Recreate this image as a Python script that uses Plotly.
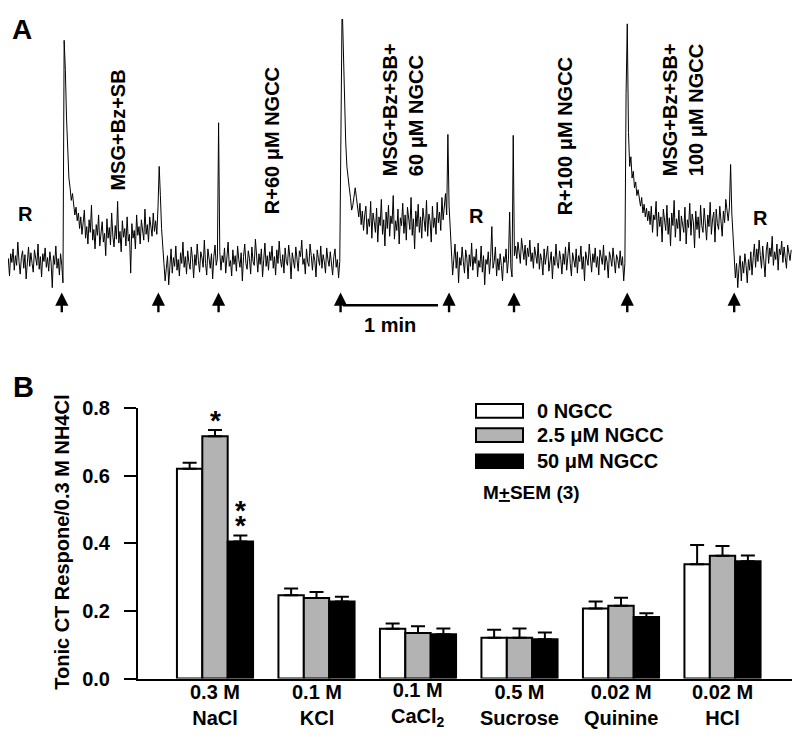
import plotly.graph_objects as go

# ---------------- Panel A data: chorda tympani trace (arbitrary units) ----------------
seg_r1 = [44, 36, 52, 30, 47, 58, 39, 45, 27, 50, 41, 55, 33, 48, 38, 62, 42, 29, 46, 53,
          35, 49, 24, 44, 57, 37, 51, 40, 31, 54, 45, 38, 60, 34, 47, 26, 50, 42, 56, 36,
          46, 32, 52, 41, 15, 48, 39, 58, 35, 45, 28, 50, 38, 20]
seg_msg1 = [270, 240, 190, 150, 128, 118, 105, 112, 96, 90, 98, 84, 92, 76, 88, 70, 82, 95, 66, 78,
            60, 85, 72, 100, 64, 75, 55, 80, 69, 90, 58, 74, 83, 62, 71, 48, 86, 66, 77, 59,
            92, 68, 57, 79, 65, 104, 61, 73, 52, 84, 67, 76, 58, 88, 63, 70, 30, 81, 66, 74,
            55, 90, 69, 78, 60, 85, 72, 64, 96, 70, 80, 62, 88, 75, 68, 92, 73, 84, 70, 98,
            140, 110, 76]
seg_r2 = [40, 22, 35, 48, 18, 42, 55, 30, 46, 37, 58, 33, 44, 27, 51, 40, 62, 36, 47, 29,
          53, 41, 34, 57, 45, 25, 49, 38, 60, 43, 31, 52, 46, 36, 64, 40, 28, 55, 44, 35,
          50, 24, 47, 59, 38, 45, 185, 52, 33, 48, 41, 56, 30, 46, 62, 37, 43, 27, 54, 39,
          48, 32, 58, 44, 36, 51, 22, 47, 60, 40, 34, 53, 45, 29, 57, 42, 38, 65, 46, 31,
          50, 39, 55, 26, 44, 61, 37, 48, 33, 52, 43, 58, 35, 47, 28, 54, 40, 63, 45, 36,
          49, 30, 56, 42, 38, 59, 46, 24, 51, 41, 35, 57, 44, 32, 53, 47, 64, 39, 45, 29,
          55, 41, 37, 60, 48, 33, 50, 43, 26, 54, 45, 38, 58, 35, 49, 42, 30, 56, 44, 37,
          52, 40, 28, 47, 55, 36, 44, 25, 42]
seg_msg2 = [310, 260, 200, 165, 140, 125, 118, 108, 95, 100, 112, 118, 108, 96, 88, 102, 80, 94, 74, 90,
            99, 70, 86, 78, 104, 66, 92, 83, 72, 97, 62, 88, 79, 106, 70, 85, 58, 93, 76, 100,
            68, 89, 81, 110, 65, 84, 74, 96, 60, 87, 79, 102, 71, 90, 64, 98, 83, 75, 108, 69,
            86, 55, 94, 78, 101, 72, 88, 66, 97, 80, 73, 105, 68, 91, 84, 62, 99, 77, 87, 70,
            103, 82, 93, 74, 108, 85, 96, 112, 90, 173, 100]
seg_r3 = [50, 28, 44, 60, 35, 52, 20, 46, 38, 57, 42, 30, 54, 45, 24, 49, 37, 61, 33, 47,
          40, 55, 26, 43, 36, 58, 31, 48, 18, 44, 39, 52, 29, 46, 78, 35, 42, 57, 27, 45,
          33, 50, 38, 22, 47, 41, 55, 30, 44, 93, 36, 26, 172, 48, 58, 45, 62, 50, 40, 66,
          53, 44, 59, 38, 56, 47, 64, 42, 51, 35, 57, 46, 40, 61, 34, 50, 43, 28, 55, 39,
          48, 58, 32, 45, 52, 24, 47, 38, 60, 41, 35, 53, 44, 29, 50, 39, 57, 33, 46, 62,
          40, 27, 51, 45, 36, 55, 30, 48, 42, 58, 34, 47, 22, 52, 43, 38, 60, 45, 31, 50,
          41, 56, 36, 47, 28, 54, 44, 39, 59, 33, 48, 42, 25, 52, 46, 37, 56, 40, 30, 49,
          44, 35, 53, 38, 47, 22, 40]
seg_msg3 = [215, 287, 175, 140, 150, 128, 135, 118, 124, 110, 116, 104, 99, 108, 92, 101, 88, 97, 84, 94,
            80, 99, 72, 90, 85, 104, 68, 93, 78, 88, 62, 96, 82, 74, 100, 70, 87, 58, 92, 79,
            105, 67, 86, 76, 95, 63, 89, 81, 72, 98, 60, 85, 77, 102, 69, 91, 83, 56, 94, 75,
            88, 66, 100, 79, 72, 97, 84, 64, 90, 78, 103, 70, 86, 93, 62, 96, 81, 75, 99, 87,
            68, 94, 82, 106, 90, 84, 98, 142, 92]
seg_r4 = [45, 25, 40, 15, 35, 48, 22, 42, 30, 50, 38, 20, 44, 33, 52, 28, 46, 60, 36, 55,
          42, 64, 48, 35, 58, 45, 26, 53, 62, 40, 56, 47, 68, 38, 52, 44, 60, 33, 55, 49,
          63, 41, 57, 46, 35, 59, 50, 43, 54]
segments = [seg_r1, seg_msg1, seg_r2, seg_msg2, seg_r3, seg_msg3, seg_r4]
# (first, last) sample time of each segment, s
segment_bounds = [(0, 39.75), (40.5, 102), (103.5, 214.5), (216, 283.5),
                  (285, 394.5), (395.25, 462), (463.5, 499.5)]

arrow_times = [39, 100, 138, 215, 283.5, 324.5, 396, 463.5]  # s
scale_bar_start = 216.5  # s
scale_bar_len = 60       # s  (1 min)

trace_labels = [
    ("R", 15.8, 91, 0, "center"),
    ("MSG+Bz+SB", 74.5, 177, -90, "center"),
    ("R+60 \u03bcM NGCC", 171.7, 167, -90, "center"),
    ("MSG+Bz+SB+<br>60 \u03bcM NGCC", 254.4, 199, -90, "left"),
    ("R", 301.1, 89, 0, "center"),
    ("R+100 \u03bcM NGCC", 356.7, 171, -90, "center"),
    ("MSG+Bz+SB+<br>100 \u03bcM NGCC", 431.2, 198, -90, "left"),
    ("R", 480.4, 87, 0, "center"),
]

# ---------------- Panel B data ----------------
categories = ["0.3 M<br>NaCl", "0.1 M<br>KCl", "0.1 M<br>CaCl<sub>2</sub>",
              "0.5 M<br>Sucrose", "0.02 M<br>Quinine", "0.02 M<br>HCl"]
series_names = ["0 NGCC", "2.5 \u03bcM NGCC", "50 \u03bcM NGCC"]
vals_0 = [0.620, 0.246, 0.147, 0.121, 0.207, 0.338]
vals_25 = [0.716, 0.238, 0.135, 0.121, 0.215, 0.363]
vals_50 = [0.405, 0.228, 0.131, 0.116, 0.182, 0.347]
sem_0 = [0.018, 0.020, 0.016, 0.023, 0.021, 0.057]
sem_25 = [0.019, 0.018, 0.020, 0.027, 0.024, 0.029]
sem_50 = [0.018, 0.014, 0.017, 0.020, 0.011, 0.017]
y_ticks = [0.0, 0.2, 0.4, 0.6, 0.8]
# significance marks: (text, category offset, y)
sig_marks = [("*", 0.0, 0.763), ("*", 0.25, 0.496), ("*", 0.25, 0.453)]

FONT = "Liberation Sans, Arial, sans-serif"
OFF = 8                 # page body margin of the browser page
W, H = 800 - OFF, 740 - OFF
PX_PER_S = 1.584


def px(x):
    return (x - OFF) / W


def py(y):
    return 1 - (y - OFF) / H


def bold(size):
    return dict(family=FONT, size=size, color="black", weight="bold")


fig = go.Figure()

# ---- trace
t_all, v_all = [], []
for (t0, t1), seg in zip(segment_bounds, segments):
    n = len(seg)
    for i, v in enumerate(seg):
        t_all.append(t0 + (t1 - t0) * i / (n - 1))
        v_all.append(v)
fig.add_trace(go.Scatter(x=t_all, y=v_all, mode="lines", line=dict(color="black", width=1),
                         xaxis="x", yaxis="y", showlegend=False, hoverinfo="skip"))

annotations = []
shapes = []
for t in arrow_times:
    annotations.append(dict(x=t, y=10, ax=t, ay=-12, xref="x", yref="y", axref="x", ayref="y",
                            text="", showarrow=True, arrowhead=2, arrowsize=1.1, arrowwidth=2.4,
                            arrowcolor="black"))
shapes.append(dict(type="line", xref="x", yref="y", x0=scale_bar_start,
                   x1=scale_bar_start + scale_bar_len, y0=-3, y1=-3,
                   line=dict(color="black", width=2.5)))
annotations.append(dict(x=scale_bar_start + scale_bar_len / 2, y=-23, xref="x", yref="y",
                        text="1 min", showarrow=False, xanchor="center", yanchor="middle",
                        font=bold(20)))
for text, tx, ty, ang, al in trace_labels:
    annotations.append(dict(x=tx, y=ty, xref="x", yref="y", text=text, showarrow=False,
                            textangle=ang, align=al, xanchor="center", yanchor="middle",
                            font=bold(20)))

# ---- bars
xs = list(range(len(categories)))
for name, vals, sems, color in [(series_names[0], vals_0, sem_0, "white"),
                                (series_names[1], vals_25, sem_25, "#b3b3b3"),
                                (series_names[2], vals_50, sem_50, "black")]:
    fig.add_trace(go.Bar(x=xs, y=vals, name=name, xaxis="x2", yaxis="y2",
                         marker=dict(color=color, line=dict(color="black", width=2)),
                         error_y=dict(type="data", array=sems, arrayminus=[0] * len(sems),
                                      symmetric=False, color="black", thickness=2, width=7),
                         showlegend=False, hoverinfo="skip"))

for text, dx, yy in sig_marks:
    annotations.append(dict(x=dx, y=yy, xref="x2", yref="y2", text=text, showarrow=False,
                            xanchor="center", yanchor="middle", font=bold(28)))

# two-line category labels
for i, cat in enumerate(categories):
    annotations.append(dict(x=i, y=py(715), xref="x2", yref="paper", text=cat,
                            showarrow=False, xanchor="center", yanchor="middle",
                            align="center", font=bold(20)))

# custom legend
legend_rows = [(412, "white"), (437, "#b3b3b3"), (464, "black")]
for (cy, color), name in zip(legend_rows, series_names):
    shapes.append(dict(type="rect", xref="paper", yref="paper", x0=px(476), x1=px(523),
                       y0=py(cy - 7), y1=py(cy + 7), fillcolor=color,
                       line=dict(color="black", width=2)))
    annotations.append(dict(x=px(535), y=py(cy), xref="paper", yref="paper", text=name,
                            showarrow=False, xanchor="left", yanchor="middle", font=bold(20)))
annotations.append(dict(x=px(481), y=py(496), xref="paper", yref="paper",
                        text="M<u>+</u>SEM (3)", showarrow=False, xanchor="left",
                        yanchor="middle", font=bold(19)))

# y title and panel letters
annotations.append(dict(x=px(62), y=py(548), xref="paper", yref="paper",
                        text="Tonic CT Respone/0.3 M NH4Cl", showarrow=False, textangle=-90,
                        xanchor="center", yanchor="middle", font=bold(20)))
annotations.append(dict(x=px(22), y=py(19), xref="paper", yref="paper", text="A",
                        showarrow=False, xanchor="center", yanchor="middle", font=bold(28)))
annotations.append(dict(x=px(23), y=py(387), xref="paper", yref="paper", text="B",
                        showarrow=False, xanchor="center", yanchor="middle", font=bold(29)))

cat_px = 101.5
x_left = (138 - 215) / cat_px
x_right = (798 - 215) / cat_px

fig.update_layout(
    width=W, height=H, margin=dict(l=0, r=0, t=0, b=0),
    paper_bgcolor="white", plot_bgcolor="white",
    font=dict(family=FONT, color="black"),
    barmode="group", bargap=0.25, bargroupgap=0,
    xaxis=dict(domain=[0, 1], range=[OFF / PX_PER_S, 800 / PX_PER_S], visible=False),
    yaxis=dict(domain=[py(330), 1], range=[-30, 300 - OFF], visible=False),
    xaxis2=dict(domain=[px(138), px(798)], range=[x_left, x_right], anchor="y2",
                tickvals=xs, showticklabels=False, ticks="", showline=True, linewidth=2,
                linecolor="black", showgrid=False, zeroline=False),
    yaxis2=dict(domain=[py(688), py(409)], range=[0, 0.8], anchor="x2",
                tickvals=y_ticks, tickformat=".1f", ticks="outside", ticklen=12, tickwidth=2,
                tickcolor="black", showline=True, linewidth=2, linecolor="black",
                showgrid=False, zeroline=False, ticklabelstandoff=10,
                tickfont=bold(20)),
    annotations=annotations, shapes=shapes,
)

fig.write_html("out.html")
